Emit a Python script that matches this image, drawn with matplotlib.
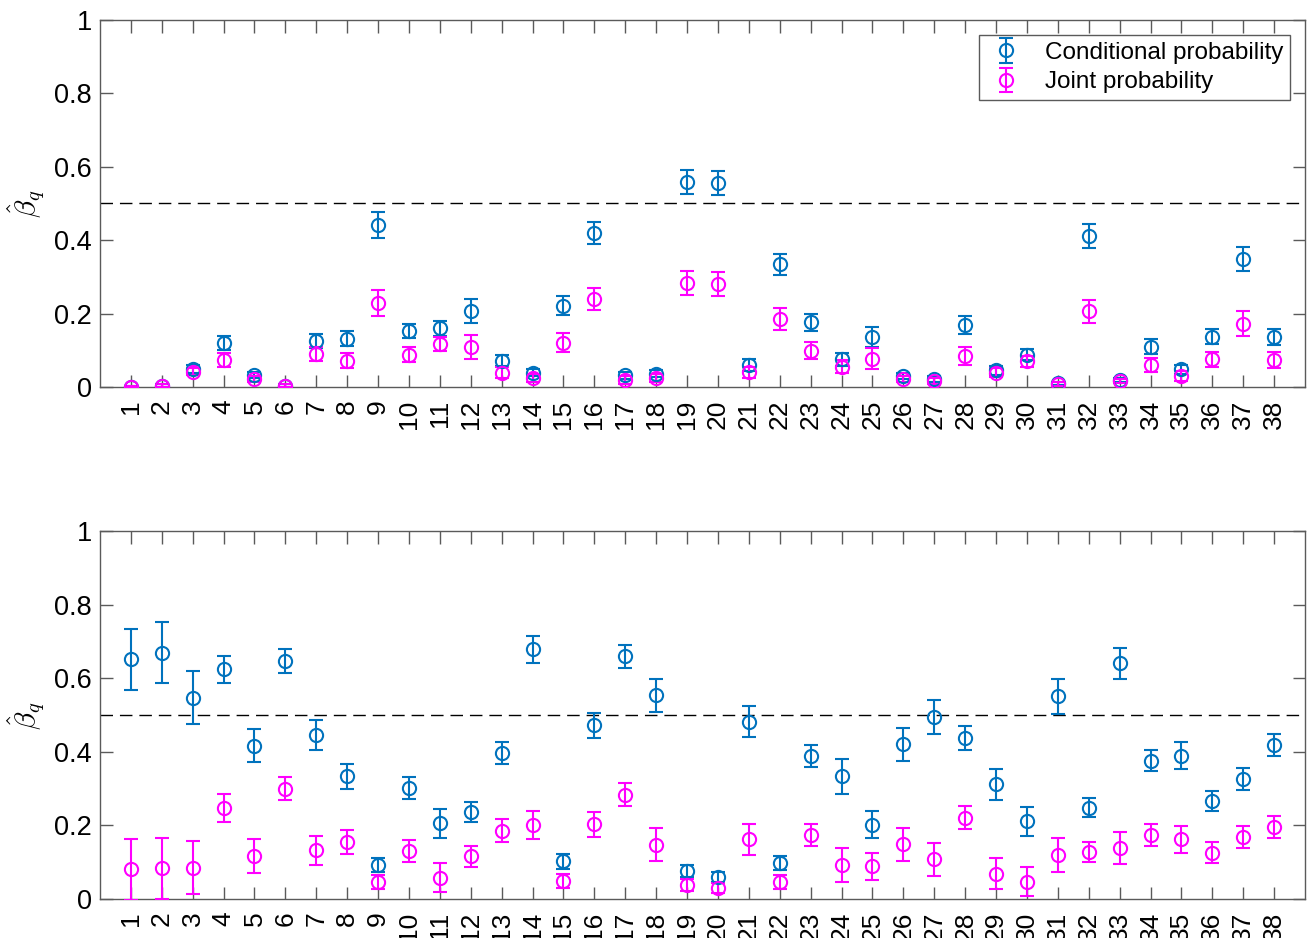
import numpy as np
import matplotlib
matplotlib.use("Agg")
import matplotlib.pyplot as plt

plt.rcParams['font.family'] = ['Liberation Sans', 'DejaVu Sans']
plt.rcParams['mathtext.fontset'] = 'cm'

q = list(range(1, 39))
tick_labels = [str(i) for i in q]

# Top panel
top_cond = [0.0, 0.003, 0.049, 0.121, 0.033, 0.003, 0.125, 0.132, 0.441, 0.153,
            0.160, 0.208, 0.072, 0.039, 0.222, 0.420, 0.032, 0.036, 0.559, 0.556,
            0.060, 0.334, 0.176, 0.076, 0.136, 0.030, 0.023, 0.169, 0.046, 0.088,
            0.010, 0.412, 0.019, 0.110, 0.048, 0.137, 0.348, 0.136]
top_cond_err = [0.004, 0.004, 0.010, 0.019, 0.008, 0.004, 0.019, 0.020, 0.035, 0.020,
                0.020, 0.033, 0.015, 0.010, 0.026, 0.030, 0.010, 0.010, 0.032, 0.032,
                0.015, 0.029, 0.023, 0.018, 0.028, 0.008, 0.008, 0.025, 0.012, 0.015,
                0.005, 0.032, 0.005, 0.020, 0.013, 0.021, 0.033, 0.022]
top_joint = [0.0, 0.003, 0.042, 0.074, 0.023, 0.003, 0.090, 0.072, 0.228, 0.088,
             0.117, 0.108, 0.039, 0.025, 0.121, 0.241, 0.019, 0.025, 0.284, 0.281,
             0.040, 0.186, 0.099, 0.055, 0.077, 0.021, 0.017, 0.085, 0.039, 0.070,
             0.008, 0.206, 0.016, 0.060, 0.030, 0.075, 0.173, 0.074]
top_joint_err = [0.004, 0.004, 0.010, 0.019, 0.008, 0.004, 0.019, 0.020, 0.035, 0.020,
                 0.020, 0.033, 0.015, 0.010, 0.025, 0.030, 0.010, 0.010, 0.033, 0.033,
                 0.015, 0.030, 0.023, 0.018, 0.029, 0.008, 0.008, 0.025, 0.012, 0.015,
                 0.005, 0.032, 0.005, 0.020, 0.013, 0.020, 0.033, 0.022]

# Bottom panel
bot_cond = [0.651, 0.669, 0.547, 0.624, 0.417, 0.647, 0.446, 0.333, 0.092, 0.302,
            0.206, 0.237, 0.397, 0.678, 0.102, 0.472, 0.659, 0.553, 0.077, 0.059,
            0.482, 0.098, 0.388, 0.333, 0.202, 0.420, 0.494, 0.438, 0.312, 0.211,
            0.551, 0.248, 0.640, 0.376, 0.389, 0.266, 0.326, 0.418]
bot_cond_err = [0.083, 0.083, 0.072, 0.037, 0.046, 0.032, 0.040, 0.033, 0.020, 0.030,
                0.039, 0.027, 0.030, 0.038, 0.020, 0.034, 0.031, 0.045, 0.016, 0.014,
                0.043, 0.019, 0.030, 0.047, 0.037, 0.046, 0.046, 0.032, 0.042, 0.040,
                0.047, 0.026, 0.043, 0.029, 0.037, 0.028, 0.029, 0.030]
bot_joint = [0.081, 0.083, 0.085, 0.247, 0.116, 0.300, 0.132, 0.154, 0.046, 0.130,
             0.058, 0.116, 0.186, 0.200, 0.049, 0.203, 0.283, 0.147, 0.038, 0.030,
             0.162, 0.047, 0.174, 0.092, 0.089, 0.149, 0.108, 0.221, 0.069, 0.047,
             0.120, 0.127, 0.139, 0.174, 0.162, 0.126, 0.168, 0.196]
bot_joint_err = [0.083, 0.083, 0.072, 0.038, 0.046, 0.032, 0.040, 0.033, 0.020, 0.030,
                 0.039, 0.028, 0.030, 0.038, 0.020, 0.034, 0.031, 0.045, 0.016, 0.014,
                 0.043, 0.019, 0.030, 0.047, 0.037, 0.045, 0.045, 0.032, 0.042, 0.040,
                 0.047, 0.027, 0.043, 0.029, 0.037, 0.028, 0.029, 0.030]

BLUE = '#0072BD'
MAG = '#FF00FF'
AXC = '#5a5a5a'

fig = plt.figure(figsize=(13.07, 9.38), dpi=100)
ax1 = fig.add_axes([0.0765, 0.5874, 0.922, 0.3913])
ax2 = fig.add_axes([0.0765, 0.0416, 0.922, 0.3923])

def panel(ax, c, ce, j, je, legend=False):
    kw = dict(fmt='o', mfc='none', ms=9.5, mew=1.5, elinewidth=1.5, capsize=5, capthick=1.5, zorder=3)
    ax.errorbar(q, c, yerr=ce, color=BLUE, label='Conditional probability', **kw)
    ax.errorbar(q, j, yerr=je, color=MAG, label='Joint probability', **kw)
    ax.axhline(0.5, color='black', ls=(0, (9, 5)), lw=1.0, zorder=2)
    ax.set_xlim(0, 39)
    ax.set_ylim(0, 1)
    ax.set_xticks(q)
    ax.set_xticklabels(tick_labels, rotation=90, fontsize=19)
    ax.set_yticks([0, 0.2, 0.4, 0.6, 0.8, 1])
    ax.set_yticklabels(['0', '0.2', '0.4', '0.6', '0.8', '1'], fontsize=19.5)
    ax.tick_params(axis='x', pad=9)
    ax.tick_params(axis='y', pad=6)
    ax.tick_params(direction='in', length=9, width=1, color=AXC, top=True, right=True)
    for s in ax.spines.values():
        s.set_color(AXC)
        s.set_linewidth(1)
    ax.set_ylabel(r'$\hat{\beta}_q$', fontsize=21, labelpad=6)
    if legend:
        leg = ax.legend(loc='upper right', fontsize=17.5, frameon=True, fancybox=False,
                        edgecolor=AXC, framealpha=1, borderaxespad=0.6,
                        handletextpad=0.8, borderpad=0.3, labelspacing=0.3, handlelength=1.6)
        leg.get_frame().set_linewidth(1)

panel(ax1, top_cond, top_cond_err, top_joint, top_joint_err, legend=True)
panel(ax2, bot_cond, bot_cond_err, bot_joint, bot_joint_err)

fig.savefig('out.png', dpi=100)
